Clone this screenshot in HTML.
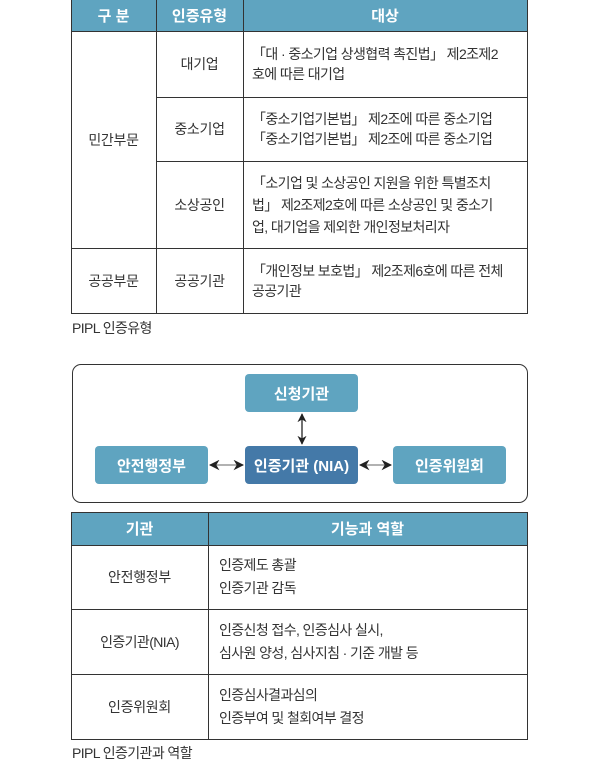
<!DOCTYPE html>
<html><head><meta charset="utf-8"><style>
*{margin:0;padding:0;box-sizing:border-box}
body{width:600px;height:767px;background:#fff;position:relative;font-family:"Liberation Sans","Noto Sans CJK KR",sans-serif;color:#333;font-size:14px;overflow:hidden}
.a{position:absolute}
.hl{position:absolute;height:1px;background:#333}
.vl{position:absolute;width:1px;background:#333}
.h{position:absolute;background:#5fa4c0;color:#fff;font-weight:bold;font-size:15px;display:flex;align-items:center;justify-content:center}
.c{position:absolute;display:flex;align-items:center;justify-content:center;text-align:center;letter-spacing:-0.3px}
.t{position:absolute;display:flex;align-items:center;line-height:20px;letter-spacing:-0.6px;white-space:nowrap}
.b{position:absolute;border-radius:4px;background:#5fa4c0;color:#fff;font-weight:bold;font-size:15px;display:flex;align-items:center;justify-content:center}
</style></head><body>
<!-- table 1 -->
<div class="h" style="left:71px;top:0;width:456px;height:31px"></div>
<div class="h" style="left:71px;top:0;width:85px;height:31px">구 분</div>
<div class="h" style="left:156px;top:0;width:87px;height:31px">인증유형</div>
<div class="h" style="left:243px;top:0;width:284px;height:31px">대상</div>
<div class="hl" style="left:71px;top:31px;width:457px"></div>
<div class="hl" style="left:156px;top:97px;width:372px"></div>
<div class="hl" style="left:156px;top:161px;width:372px"></div>
<div class="hl" style="left:71px;top:248px;width:457px"></div>
<div class="hl" style="left:71px;top:313px;width:457px"></div>
<div class="vl" style="left:71px;top:0;height:314px"></div>
<div class="vl" style="left:156px;top:0;height:314px"></div>
<div class="vl" style="left:243px;top:0;height:314px"></div>
<div class="vl" style="left:527px;top:0;height:314px"></div>
<div class="c" style="left:71px;top:31px;width:85px;height:217px">민간부문</div>
<div class="c" style="left:71px;top:248px;width:85px;height:65px">공공부문</div>
<div class="c" style="left:156px;top:31px;width:87px;height:66px">대기업</div>
<div class="c" style="left:156px;top:97px;width:87px;height:64px">중소기업</div>
<div class="c" style="left:156px;top:161px;width:87px;height:87px">소상공인</div>
<div class="c" style="left:156px;top:248px;width:87px;height:65px">공공기관</div>
<div class="t" style="left:252px;top:31px;width:272px;height:66px">「대 · 중소기업 상생협력 촉진법」 제2조제2<br>호에 따른 대기업</div>
<div class="t" style="left:252px;top:97px;width:272px;height:64px">「중소기업기본법」 제2조에 따른 중소기업<br>「중소기업기본법」 제2조에 따른 중소기업</div>
<div class="t" style="left:252px;top:161px;width:272px;height:87px;line-height:22px">「소기업 및 소상공인 지원을 위한 특별조치<br>법」 제2조제2호에 따른 소상공인 및 중소기<br>업, 대기업을 제외한 개인정보처리자</div>
<div class="t" style="left:252px;top:248px;width:272px;height:65px">「개인정보 보호법」 제2조제6호에 따른 전체<br>공공기관</div>
<div class="a" style="left:72px;top:318px;letter-spacing:-0.6px">PIPL 인증유형</div>
<!-- diagram -->
<div class="a" style="left:72px;top:364px;width:456px;height:139px;border:1px solid #333;border-radius:9px"></div>
<div class="b" style="left:245px;top:374px;width:113px;height:38px">신청기관</div>
<div class="b" style="left:95px;top:446px;width:113px;height:38px">안전행정부</div>
<div class="b" style="left:245px;top:446px;width:113px;height:38px;background:#4479a8">인증기관 (NIA)</div>
<div class="b" style="left:393px;top:446px;width:113px;height:38px">인증위원회</div>
<svg class="a" style="left:0;top:0" width="600" height="767">
<defs><marker id="m" viewBox="0 0 10 10" refX="9" refY="5" markerWidth="7" markerHeight="7" orient="auto-start-reverse"><path d="M0,0L10,5L0,10L3,5z" fill="#222"/></marker></defs>
<line x1="302" y1="414" x2="302" y2="444" stroke="#222" stroke-width="1.3" marker-start="url(#m)" marker-end="url(#m)"/>
<line x1="210" y1="465" x2="243" y2="465" stroke="#999" stroke-width="1.5" marker-start="url(#m)" marker-end="url(#m)"/>
<line x1="360" y1="465" x2="391" y2="465" stroke="#999" stroke-width="1.5" marker-start="url(#m)" marker-end="url(#m)"/>
</svg>
<!-- table 2 -->
<div class="h" style="left:71px;top:512px;width:137px;height:33px">기관</div>
<div class="h" style="left:208px;top:512px;width:319px;height:33px">기능과 역할</div>
<div class="hl" style="left:71px;top:512px;width:457px"></div>
<div class="hl" style="left:71px;top:545px;width:457px"></div>
<div class="hl" style="left:71px;top:609px;width:457px"></div>
<div class="hl" style="left:71px;top:674px;width:457px"></div>
<div class="hl" style="left:71px;top:739px;width:457px"></div>
<div class="vl" style="left:71px;top:512px;height:228px"></div>
<div class="vl" style="left:208px;top:512px;height:228px"></div>
<div class="vl" style="left:527px;top:512px;height:228px"></div>
<div class="c" style="left:71px;top:545px;width:137px;height:64px">안전행정부</div>
<div class="c" style="left:71px;top:609px;width:137px;height:65px;letter-spacing:-0.6px">인증기관(NIA)</div>
<div class="c" style="left:71px;top:674px;width:137px;height:65px">인증위원회</div>
<div class="t" style="left:219px;top:545px;width:300px;height:64px;line-height:23px">인증제도 총괄<br>인증기관 감독</div>
<div class="t" style="left:219px;top:609px;width:300px;height:65px;line-height:23px">인증신청 접수, 인증심사 실시,<br>심사원 양성, 심사지침 · 기준 개발 등</div>
<div class="t" style="left:219px;top:674px;width:300px;height:65px;line-height:23px">인증심사결과심의<br>인증부여 및 철회여부 결정</div>
<div class="a" style="left:72px;top:743px;letter-spacing:-0.6px">PIPL 인증기관과 역할</div>
</body></html>
